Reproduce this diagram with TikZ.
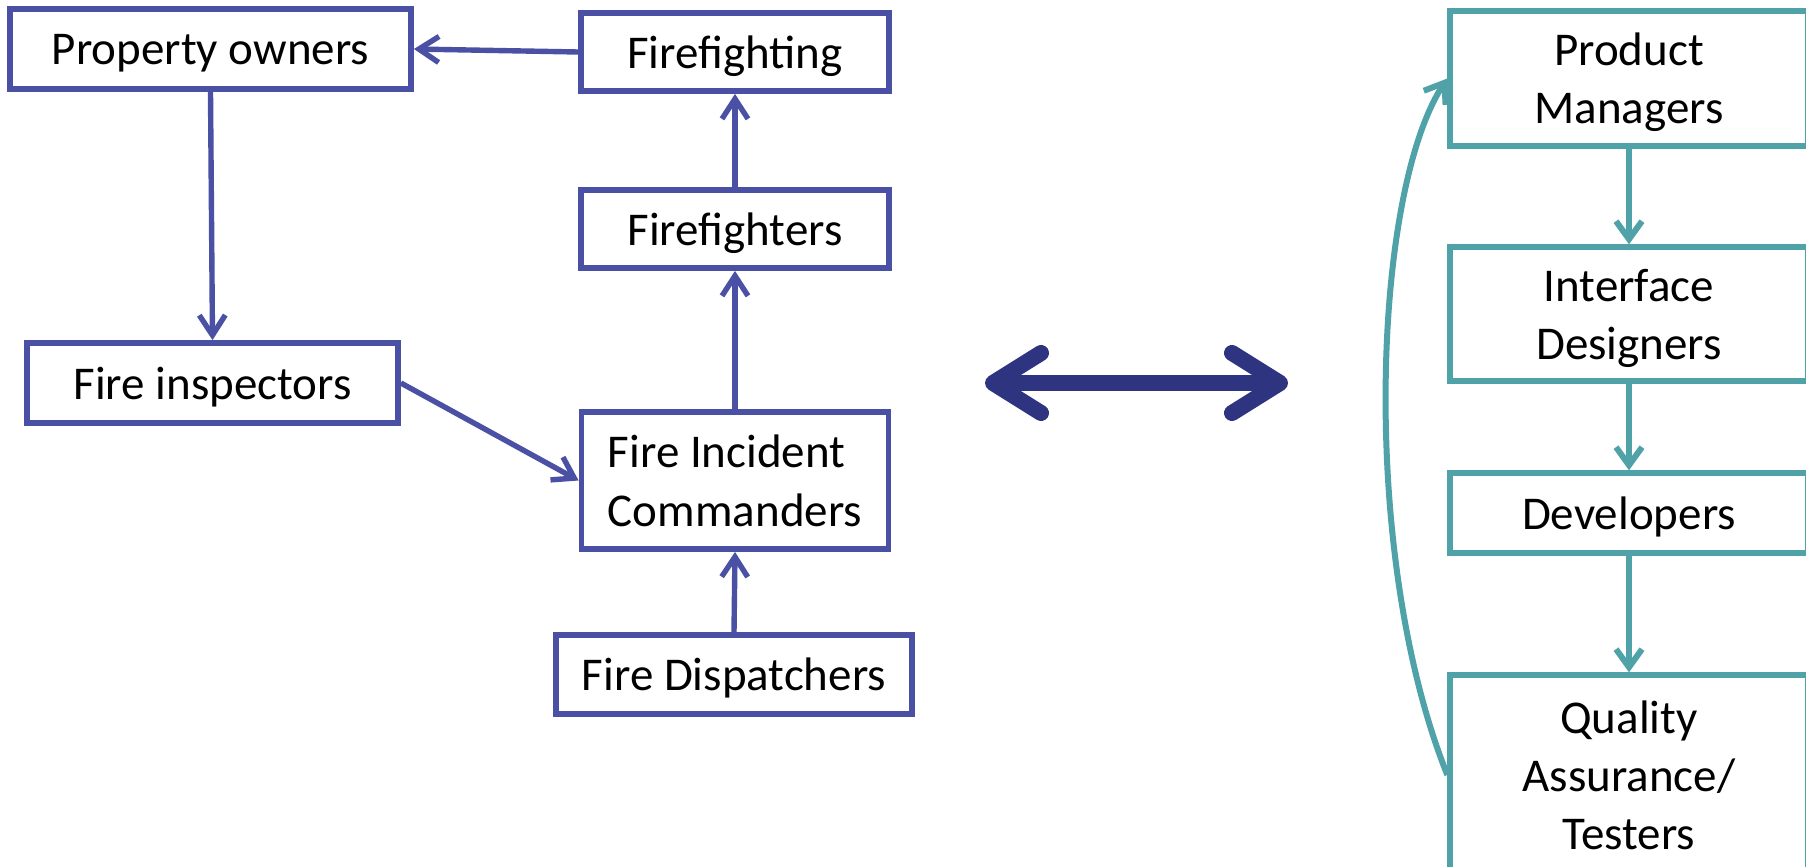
\documentclass[tikz,border=0pt]{standalone}
\usepackage{fontspec}
\setmainfont{Carlito}
\usetikzlibrary{arrows.meta, positioning}
\definecolor{fireblue}{HTML}{4A50A3}
\definecolor{devteal}{HTML}{4FA2A8}
\definecolor{linknavy}{HTML}{2E3480}

\tikzset{
  firebox/.style={draw=fireblue, line width=2.9pt, fill=white, inner sep=0pt, align=center,
    text depth=0pt, font=\fontsize{23.5pt}{29.5pt}\selectfont},
  teambox/.style={draw=devteal, line width=2.7pt, fill=white, inner sep=0pt, align=center,
    text depth=0pt, minimum width=179pt, font=\fontsize{23.5pt}{29pt}\selectfont},
  firearrow/.style={draw=fireblue, line width=2.7pt, -{Straight Barb[length=10pt, width=13pt]}},
  teamarrow/.style={draw=devteal, line width=3pt, -{Straight Barb[length=9pt, width=13pt]}},
  linkarrow/.style={draw=linknavy, line width=8pt,
    {Straight Barb[length=24pt, width=30pt, round]}-{Straight Barb[length=24pt, width=30pt, round]}}
}

\begin{document}
\begin{tikzpicture}[x=0.5pt, y=-0.5pt]
\useasboundingbox (0,0) rectangle (1806,867);

% fire service side
\node[firebox, minimum width=200.5pt, minimum height=40pt] (owners) at (210.5,49) {Property owners};
\node[firebox, minimum width=154pt, minimum height=39pt] (fighting) at (735,52) {Firefighting};
\node[firebox, minimum width=154pt, minimum height=39pt] (fighters) at (735,229) {Firefighters};
\node[firebox, minimum width=185.5pt, minimum height=40pt] (inspectors) at (212.5,383) {Fire inspectors};
\node[firebox, minimum width=153.5pt, minimum height=68.5pt, align=left] (commanders) at (735,480.5) {Fire Incident\\Commanders};
\node[firebox, minimum width=178pt, minimum height=39.5pt] (dispatchers) at (734,674.5) {Fire Dispatchers};

\draw[firearrow] (fighting.west) -- (owners.east);
\draw[firearrow] (owners.south) -- (inspectors.north);
\draw[firearrow] (inspectors.east) -- (commanders.west);
\draw[firearrow] (dispatchers.north) -- (commanders.south);
\draw[firearrow] (commanders.north) -- (fighters.south);
\draw[firearrow] (fighters.north) -- (fighting.south);

% mapping between the two sides
\coordinate (linkL) at (985,383);
\coordinate (linkR) at (1288,383);
\draw[linkarrow] (linkL) -- (linkR);

% software team side
\node[teambox, minimum height=67.5pt] (managers) at (1629,78.5) {Product\\Managers};
\node[teambox, minimum height=67pt] (designers) at (1629,314) {Interface\\Designers};
\node[teambox, minimum height=40pt] (developers) at (1629,513) {Developers};
\node[teambox, minimum height=100pt] (testers) at (1629,775) {Quality\\Assurance/\\Testers};

\draw[teamarrow] (managers.south) -- (designers.north);
\draw[teamarrow] (designers.south) -- (developers.north);
\draw[teamarrow] (developers.south) -- (testers.north);
\draw[teamarrow] (testers.west) .. controls +(-88,-220) and +(-75,115) .. (managers.west);
\end{tikzpicture}
\end{document}
